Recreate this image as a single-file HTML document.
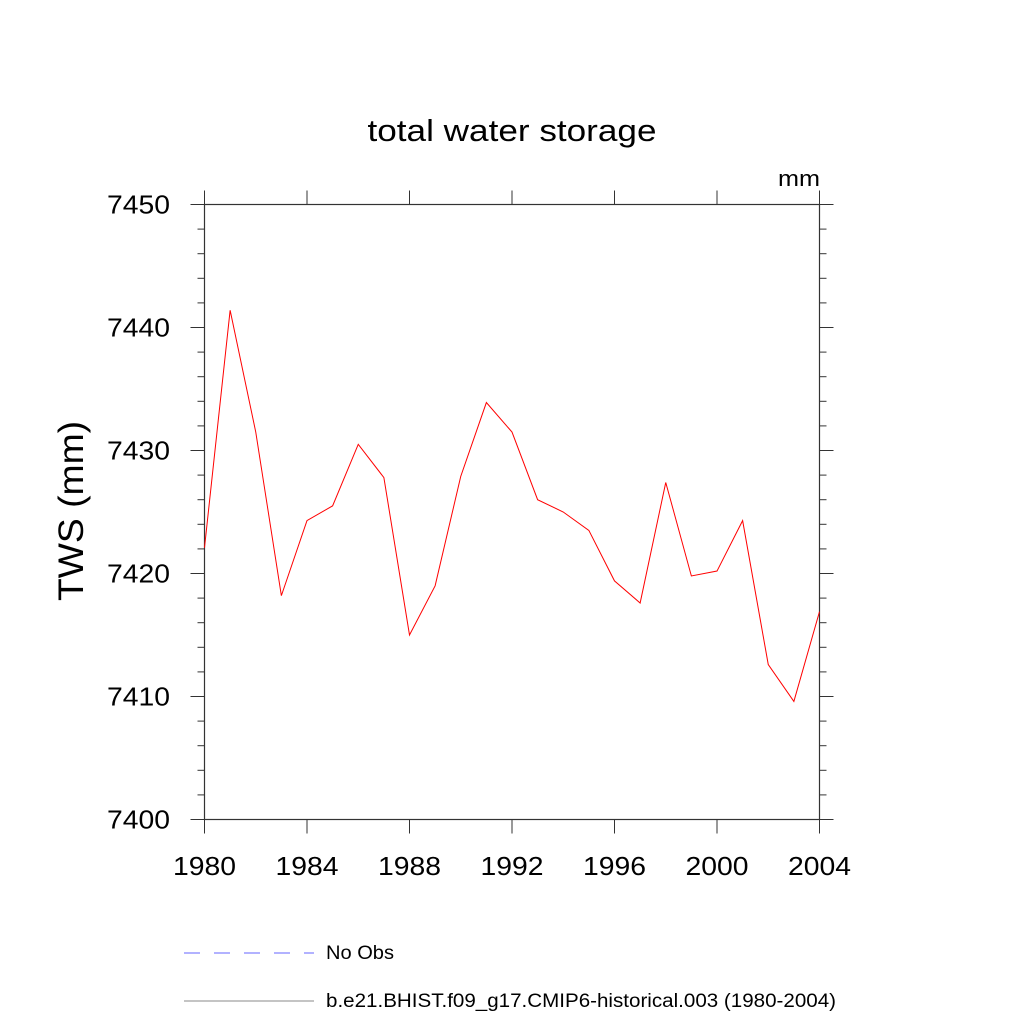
<!DOCTYPE html>
<html><head><meta charset="utf-8"><style>body{margin:0;background:#fff}svg{display:block}text{font-family:"Liberation Sans",sans-serif;fill:#000}</style></head>
<body>
<svg id="chart" width="1024" height="1024" viewBox="0 0 1024 1024">
<text x="512" y="141" font-size="31" text-anchor="middle" textLength="289" lengthAdjust="spacingAndGlyphs">total water storage</text>
<text x="820" y="186" font-size="22" text-anchor="end" textLength="42" lengthAdjust="spacingAndGlyphs">mm</text>
<text transform="translate(83,511) rotate(-90)" font-size="35" text-anchor="middle" textLength="180" lengthAdjust="spacingAndGlyphs">TWS  (mm)</text>
<g id="axes"></g>
<g id="series"></g>
<g>
<line x1="184" y1="953" x2="314" y2="953" stroke="#6666ff" stroke-width="1" stroke-dasharray="16,14"/>
<text x="326" y="959" font-size="19" textLength="68" lengthAdjust="spacingAndGlyphs">No Obs</text>
<line x1="184" y1="1001" x2="314" y2="1001" stroke="#888" stroke-width="1"/>
<text x="326" y="1007" font-size="19" textLength="510" lengthAdjust="spacingAndGlyphs">b.e21.BHIST.f09_g17.CMIP6-historical.003 (1980-2004)</text>
</g>
</svg>
<script>
const years=[1980,1981,1982,1983,1984,1985,1986,1987,1988,1989,1990,1991,1992,1993,1994,1995,1996,1997,1998,1999,2000,2001,2002,2003,2004];
const tws=[7422.1,7441.4,7431.5,7418.2,7424.3,7425.5,7430.5,7427.8,7415.0,7419.0,7427.9,7433.9,7431.5,7426.0,7425.0,7423.5,7419.4,7417.6,7427.4,7419.8,7420.2,7424.3,7412.6,7409.6,7416.9];
const xTicks=[1980,1984,1988,1992,1996,2000,2004];
const yTicks=[7400,7410,7420,7430,7440,7450];
const L=204.5,R=819.5,T=204.5,B=819.5;
const xs=v=>L+(v-1980)/(2004-1980)*(R-L);
const ys=v=>B-(v-7400)/50*(B-T);
const NS='http://www.w3.org/2000/svg';
const ax=document.getElementById('axes'),se=document.getElementById('series');
function mk(p,tag,a){const e=document.createElementNS(NS,tag);for(const k in a)e.setAttribute(k,a[k]);p.appendChild(e);return e;}
const fr=mk(ax,'rect',{x:L,y:T,width:R-L,height:B-T,fill:'none',stroke:'#333','stroke-width':1.2});


xTicks.forEach(v=>{const x=xs(v);
mk(ax,'line',{x1:x,y1:B,x2:x,y2:B+14,stroke:'#333'});
mk(ax,'line',{x1:x,y1:T,x2:x,y2:T-14,stroke:'#333'});
const t=mk(ax,'text',{x:x,y:875,'font-size':26,'text-anchor':'middle',textLength:63,lengthAdjust:'spacingAndGlyphs'});t.textContent=v;

});
for(let v=7400;v<=7450;v+=2){const y=ys(v);const major=(v%10===0);const len=major?14:7;
mk(ax,'line',{x1:L,y1:y,x2:L-len,y2:y,stroke:'#333'});
mk(ax,'line',{x1:R,y1:y,x2:R+len,y2:y,stroke:'#333'});}
yTicks.forEach(v=>{const t=mk(ax,'text',{x:170,y:ys(v)+9,'font-size':26,'text-anchor':'end',textLength:63,lengthAdjust:'spacingAndGlyphs'});t.textContent=v;

});
const line=mk(se,'polyline',{points:years.map((y,i)=>xs(y)+','+ys(tws[i])).join(' '),fill:'none',stroke:'#ff0000','stroke-width':1});


</script>
</body></html>
